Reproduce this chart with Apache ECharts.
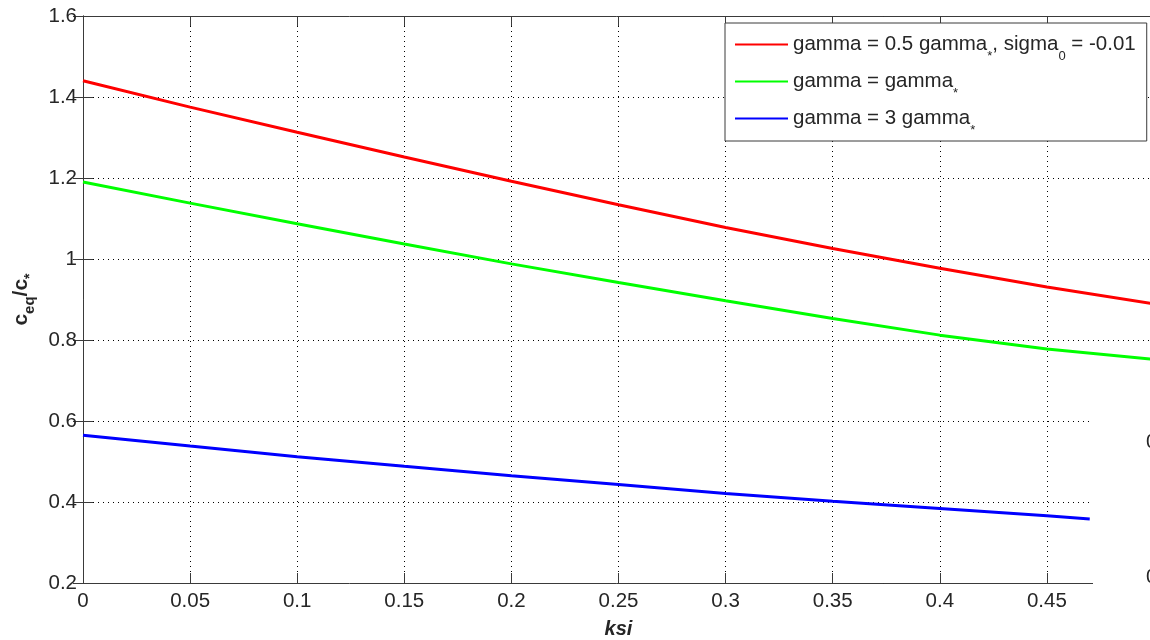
<!DOCTYPE html>
<html>
<head>
<meta charset="utf-8">
<script src="https://cdn.jsdelivr.net/npm/echarts@6/dist/echarts.min.js"></script>
<style>
html,body{margin:0;padding:0;background:#fff;}
#chart{width:1150px;height:640px;}
</style>
</head>
<body>
<div id="chart"></div>
<script>
// ---- data ----
var xValues = [0, 0.05, 0.1, 0.15, 0.2, 0.25, 0.3, 0.35, 0.4, 0.45, 0.5];
var redValues = [1.44, 1.375, 1.313, 1.252, 1.192, 1.134, 1.078, 1.026, 0.977, 0.931, 0.889];
var greenValues = [1.19, 1.138, 1.087, 1.037, 0.988, 0.942, 0.897, 0.853, 0.812, 0.778, 0.752];
var blueX = [0, 0.05, 0.1, 0.15, 0.2, 0.25, 0.3, 0.35, 0.4, 0.45, 0.47];
var blueValues = [0.565, 0.538, 0.512, 0.488, 0.465, 0.443, 0.421, 0.402, 0.384, 0.366, 0.358];
var xTickLabels = ['0', '0.05', '0.1', '0.15', '0.2', '0.25', '0.3', '0.35', '0.4', '0.45', ''];
var yTickLabels = ['0.2', '0.4', '0.6', '0.8', '1', '1.2', '1.4', '1.6'];
var seriesNames = ['red', 'green', 'blue'];
var legendTexts = {
  red: '{h| }{t|gamma = 0.5 gamma}{s|*}{t|, sigma}{s|0}{t| = -0.01}',
  green: '{h| }{t|gamma = gamma}{s|*}',
  blue: '{h| }{t|gamma = 3 gamma}{s|*}'
};
var strayLabels = ['0', '0'];

function pairs(xs, ys) { return xs.map(function (x, i) { return [x, ys[i]]; }); }

var FONT = '"Liberation Sans", Arial, Helvetica, sans-serif';
var TXT = '#262626';
var AX = '#3a3a3a';

var chart = echarts.init(document.getElementById('chart'), null, {renderer: 'canvas'});

var xLabelFmt = function (v) { return xTickLabels[Math.round(v / 0.05)]; };
var yLabelFmt = function (v) { return yTickLabels[Math.round((v - 0.2) / 0.2)]; };

var option = {
  animation: false,
  backgroundColor: '#fff',
  textStyle: {fontFamily: FONT},
  grid: {left: 83, top: 16, width: 1071, height: 567, containLabel: false, outerBoundsMode: 'none'},
  legend: {
    data: seriesNames,
    orient: 'vertical',
    left: 725,
    top: 23,
    backgroundColor: '#fff',
    borderColor: AX,
    borderWidth: 1,
    borderRadius: 0,
    padding: [11, 11, 4.5, 10],
    itemGap: 8.5,
    itemWidth: 53,
    itemHeight: 14,
    itemTextGap: 5,
    icon: 'path://M0,6 L53,6 L53,8 L0,8 Z',
    selectedMode: false,
    formatter: function (n) { return legendTexts[n]; },
    textStyle: {
      color: TXT,
      fontFamily: FONT,
      rich: {
        h: {fontSize: 2, lineHeight: 36, width: 0},
        t: {fontSize: 20.5, fontFamily: FONT, color: TXT, lineHeight: 20, verticalAlign: 'middle'},
        s: {fontSize: 13, fontFamily: FONT, color: TXT, lineHeight: 14, verticalAlign: 'bottom'}
      }
    }
  },
  xAxis: [{
    type: 'value', min: 0, max: 0.5, interval: 0.05, position: 'bottom',
    name: 'ksi', nameLocation: 'middle', nameGap: 36,
    nameTextStyle: {fontSize: 20, fontWeight: 'bold', fontStyle: 'italic', color: TXT, fontFamily: FONT},
    axisLine: {show: true, lineStyle: {color: AX, width: 1}},
    axisTick: {show: true, inside: true, length: 10, lineStyle: {color: AX}},
    axisLabel: {formatter: xLabelFmt, margin: 8, fontSize: 20.5, color: TXT, fontFamily: FONT, showMaxLabel: false},
    splitLine: {show: true, lineStyle: {color: '#000', type: [1, 4], width: 1}}
  }, {
    type: 'value', min: 0, max: 0.5, interval: 0.05, position: 'top',
    axisLine: {show: true, lineStyle: {color: AX, width: 1}},
    axisTick: {show: true, inside: true, length: 10, lineStyle: {color: AX}},
    axisLabel: {show: false},
    splitLine: {show: false}
  }],
  yAxis: [{
    type: 'value', min: 0.2, max: 1.6, interval: 0.2, position: 'left',
    name: '{h| }{m|c}{s|eq}{m|/c}{a|*}', nameLocation: 'middle', nameRotate: 90, nameGap: 46,
    nameTextStyle: {
      color: TXT, fontFamily: FONT,
      rich: {
        h: {fontSize: 2, lineHeight: 32, width: 0},
        m: {fontSize: 21, fontWeight: 'bold', fontFamily: FONT, color: TXT, lineHeight: 20, verticalAlign: 'middle'},
        s: {fontSize: 15, fontWeight: 'bold', fontFamily: FONT, color: TXT, lineHeight: 16, verticalAlign: 'bottom'},
        a: {fontSize: 14, fontWeight: 'bold', fontFamily: FONT, color: TXT, lineHeight: 16, verticalAlign: 'bottom'}
      }
    },
    axisLine: {show: true, lineStyle: {color: AX, width: 1}},
    axisTick: {show: true, inside: true, length: 10, lineStyle: {color: AX}},
    axisLabel: {formatter: yLabelFmt, margin: 6, fontSize: 20.5, color: TXT, fontFamily: FONT},
    splitLine: {show: true, lineStyle: {color: '#000', type: [1, 4], width: 1}}
  }, {
    type: 'value', min: 0.2, max: 1.6, interval: 0.2, position: 'right',
    axisLine: {show: true, lineStyle: {color: AX, width: 1}},
    axisTick: {show: true, inside: true, length: 10, lineStyle: {color: AX}},
    axisLabel: {show: false},
    splitLine: {show: false}
  }],
  series: [
    {name: 'red', type: 'line', data: pairs(xValues, redValues), showSymbol: false, symbol: 'none',
     lineStyle: {color: '#ff0000', width: 3}, itemStyle: {color: '#ff0000'}, z: 3},
    {name: 'green', type: 'line', data: pairs(xValues, greenValues), showSymbol: false, symbol: 'none',
     lineStyle: {color: '#00ff00', width: 3}, itemStyle: {color: '#00ff00'}, z: 3},
    {name: 'blue', type: 'line', data: pairs(blueX, blueValues), showSymbol: false, symbol: 'none',
     lineStyle: {color: '#0000ff', width: 3}, itemStyle: {color: '#0000ff'}, z: 3}
  ],
  graphic: [
    {type: 'rect', left: 1093, top: 372, shape: {width: 60, height: 270}, style: {fill: '#fff'}, z: 100, silent: true},
    {type: 'text', left: 1146, top: 432, style: {text: strayLabels[0], font: '20px ' + FONT, fill: TXT}, z: 101},
    {type: 'text', left: 1146, top: 567, style: {text: strayLabels[1], font: '20px ' + FONT, fill: TXT}, z: 101}
  ]
};
chart.setOption(option);
</script>
</body>
</html>
